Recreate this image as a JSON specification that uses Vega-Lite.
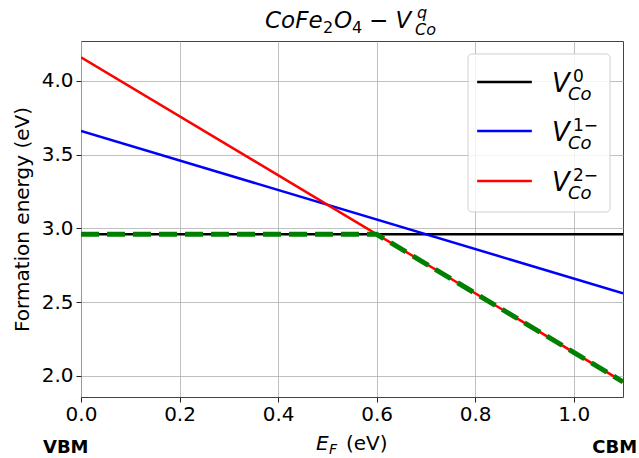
{
  "$schema": "https://vega.github.io/schema/vega-lite/v6.json",
  "width": 542,
  "height": 356,
  "autosize": {"type": "none"},
  "padding": {"left": 81, "top": 41, "right": 16, "bottom": 61},
  "background": "white",
  "config": {
    "font": "DejaVu Sans",
    "view": {"stroke": "#444444", "strokeWidth": 1},
    "axis": {
      "grid": true,
      "gridColor": "#b0b0b0",
      "gridWidth": 0.8,
      "domain": false,
      "tickColor": "#222222",
      "tickSize": 5,
      "labelFont": "DejaVu Sans",
      "labelFontSize": 20,
      "labelColor": "black",
      "labelFlush": false,
      "labelOverlap": false,
      "titleFont": "DejaVu Sans",
      "titleFontSize": 20,
      "titleFontWeight": "normal",
      "titleColor": "black"
    }
  },
  "datasets": {
    "lines": [
      {"series": "V0", "E": 0, "F": 2.96},
      {"series": "V0", "E": 1.1, "F": 2.96},
      {"series": "V1", "E": 0, "F": 3.66},
      {"series": "V1", "E": 1.1, "F": 2.56},
      {"series": "V2", "E": 0, "F": 4.16},
      {"series": "V2", "E": 1.1, "F": 1.96}
    ],
    "envelope": [
      {"E": 0, "F": 2.96},
      {"E": 0.6, "F": 2.96},
      {"E": 1.1, "F": 1.96}
    ],
    "legend": [
      {"series": "V0", "sup": "0", "F": 3.992},
      {"series": "V1", "sup": "1−", "F": 3.66},
      {"series": "V2", "sup": "2−", "F": 3.321}
    ],
    "one": [{"k": 1}]
  },
  "layer": [
    {
      "data": {"name": "lines"},
      "mark": {"type": "line", "strokeWidth": 2.5, "clip": true},
      "encoding": {
        "x": {"field": "E", "type": "quantitative",
              "scale": {"domain": [0, 1.1], "nice": false, "zero": false},
              "axis": {"values": [0, 0.2, 0.4, 0.6, 0.8, 1.0], "format": ".1f", "title": null, "labelPadding": 2}},
        "y": {"field": "F", "type": "quantitative",
              "scale": {"domain": [1.857, 4.27], "nice": false, "zero": false},
              "axis": {"values": [2.0, 2.5, 3.0, 3.5, 4.0], "format": ".1f", "title": "Formation energy (eV)", "labelPadding": 3, "titlePadding": 9}},
        "color": {"field": "series", "type": "nominal",
                  "scale": {"domain": ["V0", "V1", "V2"], "range": ["#000000", "#0000ff", "#ff0000"]},
                  "legend": null},
        "order": {"field": "E"}
      }
    },
    {
      "data": {"name": "envelope"},
      "mark": {"type": "line", "color": "#008000", "strokeWidth": 5, "strokeDash": [18, 8], "clip": true},
      "encoding": {
        "x": {"field": "E", "type": "quantitative"},
        "y": {"field": "F", "type": "quantitative"}
      }
    },
    {
      "data": {"name": "one"},
      "mark": {"type": "rect", "fill": "white", "fillOpacity": 0.8, "stroke": "#d0d0d0", "strokeWidth": 1, "cornerRadius": 4},
      "encoding": {
        "x": {"datum": 0.7855, "type": "quantitative"},
        "x2": {"datum": 1.0737},
        "y": {"datum": 4.182, "type": "quantitative"},
        "y2": {"datum": 3.111}
      }
    },
    {
      "data": {"name": "legend"},
      "mark": {"type": "rule", "strokeWidth": 2.5},
      "encoding": {
        "x": {"datum": 0.804, "type": "quantitative"},
        "x2": {"datum": 0.915},
        "y": {"field": "F", "type": "quantitative"},
        "color": {"field": "series", "type": "nominal", "legend": null}
      }
    },
    {
      "data": {"name": "legend"},
      "mark": {"type": "text", "text": "V", "font": "DejaVu Sans", "fontStyle": "italic", "fontSize": 26, "align": "left", "baseline": "alphabetic", "dy": 10, "color": "black"},
      "encoding": {
        "x": {"datum": 0.956, "type": "quantitative"},
        "y": {"field": "F", "type": "quantitative"}
      }
    },
    {
      "data": {"name": "legend"},
      "mark": {"type": "text", "text": "Co", "font": "DejaVu Sans", "fontStyle": "italic", "fontSize": 18, "align": "left", "baseline": "alphabetic", "dy": 18, "color": "black"},
      "encoding": {
        "x": {"datum": 0.9884, "type": "quantitative"},
        "y": {"field": "F", "type": "quantitative"}
      }
    },
    {
      "data": {"name": "legend"},
      "mark": {"type": "text", "font": "DejaVu Sans", "fontSize": 17, "align": "left", "baseline": "alphabetic", "dy": 0, "color": "black"},
      "encoding": {
        "x": {"datum": 0.9986, "type": "quantitative"},
        "y": {"field": "F", "type": "quantitative"},
        "text": {"field": "sup"}
      }
    },
    {
      "data": {"name": "one"},
      "mark": {"type": "text", "text": "CoFe", "font": "DejaVu Sans", "fontStyle": "italic", "fontSize": 23, "align": "left", "baseline": "alphabetic", "color": "black"},
      "encoding": {
        "x": {"datum": 0.3735, "type": "quantitative"},
        "y": {"datum": 4.358, "type": "quantitative"}
      }
    },
    {
      "data": {"name": "one"},
      "mark": {"type": "text", "text": "2", "font": "DejaVu Sans", "fontSize": 16, "align": "left", "baseline": "alphabetic", "dx": 58, "dy": 5, "color": "black"},
      "encoding": {
        "x": {"datum": 0.3735, "type": "quantitative"},
        "y": {"datum": 4.358, "type": "quantitative"}
      }
    },
    {
      "data": {"name": "one"},
      "mark": {"type": "text", "text": "O", "font": "DejaVu Sans", "fontStyle": "italic", "fontSize": 23, "align": "left", "baseline": "alphabetic", "dx": 69, "color": "black"},
      "encoding": {
        "x": {"datum": 0.3735, "type": "quantitative"},
        "y": {"datum": 4.358, "type": "quantitative"}
      }
    },
    {
      "data": {"name": "one"},
      "mark": {"type": "text", "text": "4", "font": "DejaVu Sans", "fontSize": 16, "align": "left", "baseline": "alphabetic", "dx": 87, "dy": 5, "color": "black"},
      "encoding": {
        "x": {"datum": 0.3735, "type": "quantitative"},
        "y": {"datum": 4.358, "type": "quantitative"}
      }
    },
    {
      "data": {"name": "one"},
      "mark": {"type": "text", "text": "− V", "font": "DejaVu Sans", "fontStyle": "italic", "fontSize": 23, "align": "left", "baseline": "alphabetic", "dx": 104, "color": "black"},
      "encoding": {
        "x": {"datum": 0.3735, "type": "quantitative"},
        "y": {"datum": 4.358, "type": "quantitative"}
      }
    },
    {
      "data": {"name": "one"},
      "mark": {"type": "text", "text": "q", "font": "DejaVu Sans", "fontStyle": "italic", "fontSize": 16, "align": "left", "baseline": "alphabetic", "dx": 152, "dy": -10, "color": "black"},
      "encoding": {
        "x": {"datum": 0.3735, "type": "quantitative"},
        "y": {"datum": 4.358, "type": "quantitative"}
      }
    },
    {
      "data": {"name": "one"},
      "mark": {"type": "text", "text": "Co", "font": "DejaVu Sans", "fontStyle": "italic", "fontSize": 16, "align": "left", "baseline": "alphabetic", "dx": 150, "dy": 7, "color": "black"},
      "encoding": {
        "x": {"datum": 0.3735, "type": "quantitative"},
        "y": {"datum": 4.358, "type": "quantitative"}
      }
    },
    {
      "data": {"name": "one"},
      "mark": {"type": "text", "text": "E", "font": "DejaVu Sans", "fontStyle": "italic", "fontSize": 20, "align": "left", "baseline": "alphabetic", "color": "black"},
      "encoding": {
        "x": {"datum": 0.4769, "type": "quantitative"},
        "y": {"datum": 1.497, "type": "quantitative"}
      }
    },
    {
      "data": {"name": "one"},
      "mark": {"type": "text", "text": "F", "font": "DejaVu Sans", "fontStyle": "italic", "fontSize": 14, "align": "left", "baseline": "alphabetic", "dx": 13, "dy": 4, "color": "black"},
      "encoding": {
        "x": {"datum": 0.4769, "type": "quantitative"},
        "y": {"datum": 1.497, "type": "quantitative"}
      }
    },
    {
      "data": {"name": "one"},
      "mark": {"type": "text", "text": "(eV)", "font": "DejaVu Sans", "fontSize": 20, "align": "left", "baseline": "alphabetic", "dx": 30, "color": "black"},
      "encoding": {
        "x": {"datum": 0.4769, "type": "quantitative"},
        "y": {"datum": 1.497, "type": "quantitative"}
      }
    },
    {
      "data": {"name": "one"},
      "mark": {"type": "text", "text": "VBM", "font": "DejaVu Sans", "fontWeight": "bold", "fontSize": 18, "align": "left", "baseline": "alphabetic", "color": "black"},
      "encoding": {
        "x": {"datum": -0.0772, "type": "quantitative"},
        "y": {"datum": 1.477, "type": "quantitative"}
      }
    },
    {
      "data": {"name": "one"},
      "mark": {"type": "text", "text": "CBM", "font": "DejaVu Sans", "fontWeight": "bold", "fontSize": 18, "align": "right", "baseline": "alphabetic", "color": "black"},
      "encoding": {
        "x": {"datum": 1.1286, "type": "quantitative"},
        "y": {"datum": 1.477, "type": "quantitative"}
      }
    }
  ]
}
